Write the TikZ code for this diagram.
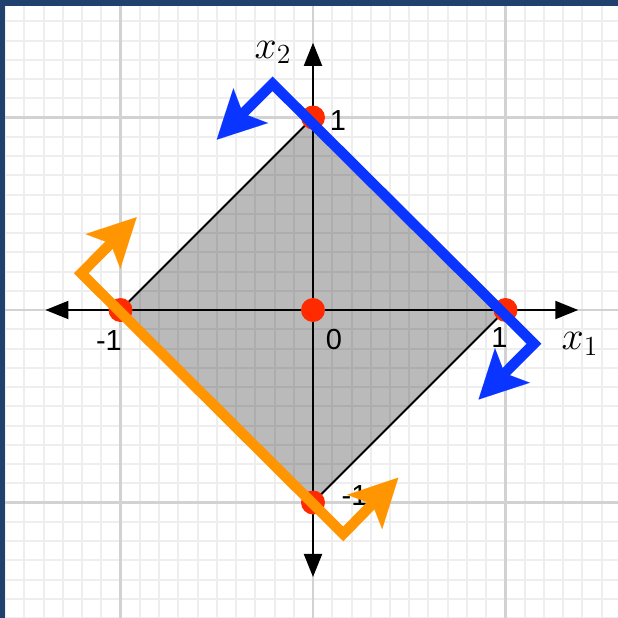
\documentclass[tikz,border=0pt]{standalone}
\usepackage{graphicx}
\usepackage{fontspec}
\setsansfont{Liberation Sans}
\usetikzlibrary{arrows.meta}
\definecolor{gridminor}{HTML}{EEEEEE}
\definecolor{gridmajor}{HTML}{D2D2D2}
\definecolor{frameblue}{HTML}{20416E}
\definecolor{dotred}{HTML}{FF2A00}
\definecolor{lineblue}{HTML}{0A34FF}
\definecolor{lineorange}{HTML}{FF9500}
\tikzset{
  bigtip/.tip={Stealth[length=24pt,width=24.5pt,inset=5.5pt,line width=0.01pt]},
  axtip/.tip={Triangle[length=11.5pt,width=9pt]}
}
\newcommand{\varlab}[1]{\scalebox{1.15}{$#1$}}
\begin{document}
\begin{tikzpicture}[x=96.25pt,y=96.25pt,
  minorgrid/.style={draw=gridminor,line width=1pt},
  majorgrid/.style={draw=gridmajor,line width=1.1pt},
  axisline/.style={draw=black,line width=1pt,axtip-axtip},
  edgeline/.style={draw=black,line width=1pt},
  dot/.style={circle,fill=dotred,inner sep=0pt,minimum size=12pt},
  numlabel/.style={font=\sffamily\fontsize{14.5}{16}\selectfont,inner sep=0pt,anchor=base},
  varlabel/.style={font=\fontsize{17.28}{20}\selectfont,inner sep=0pt,anchor=base west},
  halfplane/.style={line width=5.2pt,line join=miter,line cap=butt,bigtip-bigtip}
]
\useasboundingbox (-1.6260,-1.6) rectangle (1.5844,1.6104);
\fill[white] (-1.6260,-1.6) rectangle (1.5844,1.6104);
\begin{scope}
\clip (-1.6260,-1.6) rectangle (1.5844,1.6104);
\foreach \i in {-17,...,17}{
  \draw[minorgrid] (\i/10,-1.7) -- (\i/10,1.7);
  \draw[minorgrid] (-1.7,\i/10) -- (1.7,\i/10);
}
\foreach \i in {-1,0,1}{
  \draw[majorgrid] (\i,-1.7) -- (\i,1.7);
  \draw[majorgrid] (-1.7,\i) -- (1.7,\i);
}
\end{scope}
% frame
\fill[frameblue] (-1.6260,1.5794) rectangle (1.5844,1.6104);
\fill[frameblue] (-1.6260,-1.6) rectangle (-1.5990,1.6104);
% diamond
\coordinate (L) at (-1,0);
\coordinate (T) at (0,1);
\coordinate (R) at (1,0);
\coordinate (B) at (0,-1);
\fill[black,fill opacity=0.27] (L) -- (T) -- (R) -- (B) -- cycle;
\draw[edgeline] (L) -- (T);
\draw[edgeline] (R) -- (B);
% axes
\coordinate (xl) at (-1.39,0);
\coordinate (xr) at (1.378,0);
\coordinate (yb) at (0,-1.387);
\coordinate (yt) at (0,1.388);
\draw[axisline] (xl) -- (xr);
\draw[axisline] (yb) -- (yt);
% labels
\node[numlabel] (l1) at (0.13,0.935) {1};
\node[numlabel] (lm1) at (-1.06,-0.208) {-1};
\node[numlabel] (l0) at (0.109,-0.203) {0};
\node[numlabel] (r1) at (0.969,-0.195) {1};
\node[numlabel] (bm1) at (0.216,-1.013) {-1};
\node[varlabel] (x1) at (1.29,-0.203) {\varlab{x_1}};
\node[varlabel] (x2) at (-0.305,1.309) {\varlab{x_2}};
% dots
\node[dot] (dT) at (T) {};
\node[dot] (dR) at (R) {};
\node[dot] (dL) at (L) {};
\node[dot] (dB) at (B) {};
\node[dot] (dO) at (0,0) {};
% blue half-plane boundary
\coordinate (bt1) at (-0.50,0.885);
\coordinate (bc1) at (-0.21,1.175);
\coordinate (bc2) at (1.148,-0.175);
\coordinate (bt2) at (0.86,-0.465);
\draw[halfplane,draw=lineblue] (bt1) -- (bc1) -- (bc2) -- (bt2);
% orange half-plane boundary
\coordinate (oc1) at (-1.204,0.191);
\coordinate (ot1) at (-0.916,0.482);
\coordinate (oc2) at (0.157,-1.163);
\coordinate (ot2) at (0.443,-0.871);
\draw[halfplane,draw=lineorange] (ot1) -- (oc1) -- (oc2) -- (ot2);
\end{tikzpicture}
\end{document}
